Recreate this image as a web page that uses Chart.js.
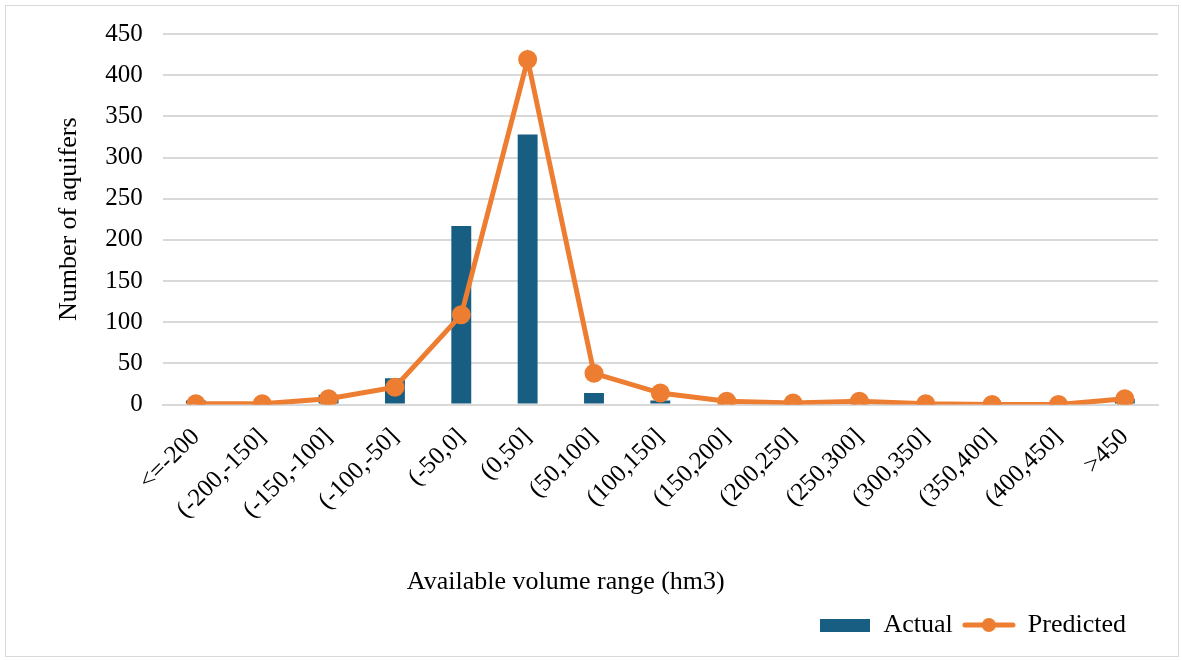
<!DOCTYPE html>
<html>
<head>
<meta charset="utf-8">
<script src="https://cdn.jsdelivr.net/npm/chart.js@4.4.1/dist/chart.umd.min.js"></script>
<style>
    html, body { margin: 0; padding: 0; background: #fff; }
    #wrap {
        position: absolute; left: 5px; top: 5px;
        width: 1172px; height: 650px;
        border: 1px solid #d9d9d9;
    }
</style>
</head>
<body>
<div id="wrap"><canvas id="aquiferChart"></canvas></div>
<script>
    // data
    const ranges = ['<=-200', '(-200,-150]', '(-150,-100]', '(-100,-50]', '(-50,0]', '(0,50]',
        '(50,100]', '(100,150]', '(150,200]', '(200,250]', '(250,300]', '(300,350]',
        '(350,400]', '(400,450]', '>450'];
    const actualCounts = [5, 0, 12, 32, 217, 328, 14, 5, 0, 0, 0, 0, 0, 0, 7];
    const predictedCounts = [1, 1, 7, 21, 109, 419, 38, 14, 4, 2, 4, 1, 0, 0, 7];
    const yTicks = [0, 50, 100, 150, 200, 250, 300, 350, 400, 450];

    const barColor = '#175e82';
    const lineColor = '#ed7d31';
    const serif = '"Liberation Serif", "Times New Roman", serif';
    const xTitle = 'Available volume range (hm3)';

    // legend marker for the line series: a short line with a dot in the middle
    function lineMarker() {
        const c = document.createElement('canvas');
        c.width = 54; c.height = 16;
        const g = c.getContext('2d');
        g.strokeStyle = lineColor;
        g.lineWidth = 5;
        g.lineCap = 'round';
        g.beginPath(); g.moveTo(3, 8); g.lineTo(51, 8); g.stroke();
        g.fillStyle = lineColor;
        g.beginPath(); g.arc(27, 8, 7, 0, Math.PI * 2); g.fill();
        return c;
    }
    function boxMarker() {
        const c = document.createElement('canvas');
        c.width = 50; c.height = 13;
        const g = c.getContext('2d');
        g.fillStyle = barColor;
        g.fillRect(0, 0, 50, 13);
        return c;
    }

    // draws the x axis title a bit left of centre, like the original,
    // and pulls the legend in from the right edge
    const layoutTweaks = {
        id: 'layoutTweaks',
        afterLayout(chart) {
            chart.legend.right -= 22;
        },
        afterDraw(chart) {
            const ctx = chart.ctx;
            const xs = chart.scales.x;
            ctx.save();
            ctx.font = '26px ' + serif;
            ctx.fillStyle = '#000';
            ctx.textAlign = 'center';
            ctx.textBaseline = 'middle';
            ctx.fillText(xTitle, chart.chartArea.left + chart.chartArea.width * 0.405, xs.bottom - 20);
            ctx.restore();
        }
    };

    const ctx = document.getElementById('aquiferChart').getContext('2d');
    new Chart(ctx, {
        data: {
            labels: ranges,
            datasets: [{
                type: 'line',
                label: 'Predicted',
                data: predictedCounts,
                borderColor: lineColor,
                backgroundColor: lineColor,
                borderWidth: 5,
                pointRadius: 7,
                pointHoverRadius: 7,
                tension: 0,
                order: 0
            }, {
                type: 'bar',
                label: 'Actual',
                data: actualCounts,
                backgroundColor: barColor,
                categoryPercentage: 1,
                barPercentage: 0.3,
                order: 1
            }]
        },
        options: {
            responsive: true,
            maintainAspectRatio: false,
            animation: false,
            layout: { padding: { left: 48, right: 20, top: 7, bottom: 8 } },
            plugins: {
                tooltip: { enabled: false },
                legend: {
                    position: 'bottom',
                    align: 'end',
                    labels: {
                        color: '#000',
                        font: { family: serif, size: 26 },
                        usePointStyle: true,
                        padding: 10,
                        pointStyleWidth: 52,
                        generateLabels(chart) {
                            return [
                                { text: 'Actual', pointStyle: boxMarker(), datasetIndex: 1, fontColor: '#000' },
                                { text: 'Predicted', pointStyle: lineMarker(), datasetIndex: 0, fontColor: '#000' }
                            ];
                        }
                    }
                }
            },
            scales: {
                x: {
                    grid: { display: false },
                    border: { color: '#d9d9d9', width: 2 },
                    ticks: {
                        color: '#000',
                        font: { family: serif, size: 25 },
                        minRotation: 45,
                        maxRotation: 45,
                        autoSkip: false,
                        padding: 10
                    },
                    title: {
                        display: true,
                        text: xTitle,
                        color: 'rgba(0,0,0,0)',
                        font: { family: serif, size: 26 },
                        padding: { top: 30, bottom: 6 }
                    }
                },
                y: {
                    min: 0,
                    max: 450,
                    afterBuildTicks(scale) {
                        scale.ticks = yTicks.map(v => ({ value: v }));
                    },
                    afterFit(scale) {
                        scale.paddingTop = 28;
                    },
                    grid: { color: '#d9d9d9', lineWidth: 2, drawTicks: false },
                    border: { display: false },
                    ticks: {
                        color: '#000',
                        font: { family: serif, size: 25 },
                        padding: 20
                    },
                    title: {
                        display: true,
                        text: 'Number of aquifers',
                        color: '#000',
                        font: { family: serif, size: 26 },
                        padding: { top: 0, bottom: 0 }
                    }
                }
            }
        },
        plugins: [layoutTweaks]
    });
</script>
</body>
</html>
